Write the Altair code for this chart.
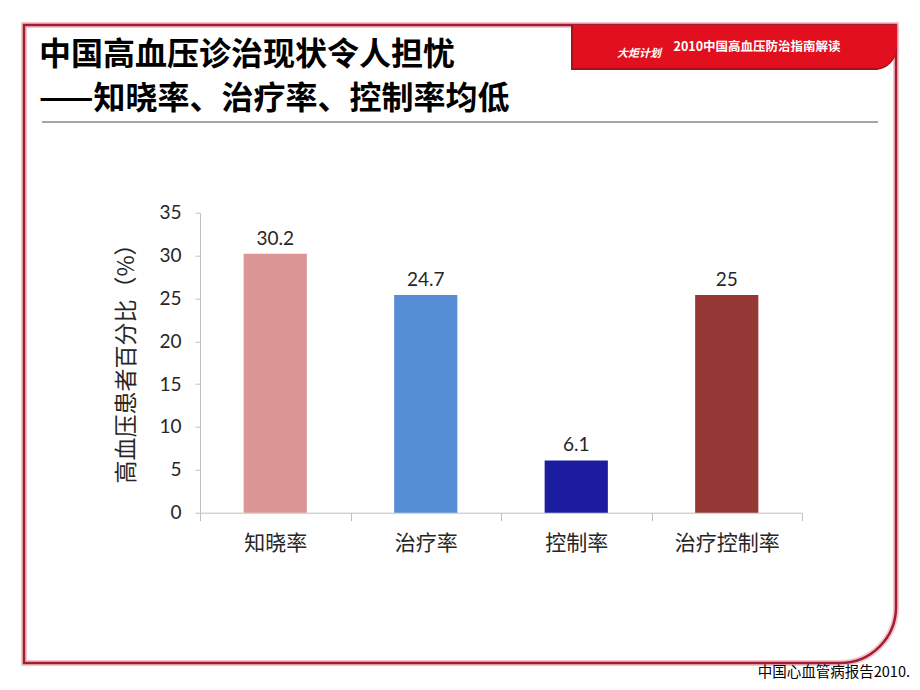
import altair as alt
import pandas as pd

# ---- data ----
categories = ["知晓率", "治疗率", "控制率", "治疗控制率"]
bar_values = [30.2, 25.4, 6.1, 25.4]
label_texts = ["30.2", "24.7", "6.1", "25"]
bar_colors = ["#D99694", "#558ED5", "#1C1CA0", "#953735"]
y_ticks = [0, 5, 10, 15, 20, 25, 30, 35]

title_line1 = "中国高血压诊治现状令人担忧"
title_line2 = "——知晓率、治疗率、控制率均低"
y_title = "高血压患者百分比（%）"
banner_text = "2010中国高血压防治指南解读"
logo_text = "大炬计划"
source_text = "中国心血管病报告2010."

df = pd.DataFrame({"cat": categories, "value": bar_values,
                   "label": label_texts, "color": bar_colors})
one = pd.DataFrame({"k": [0]})

W, H = 602, 300
OX, OY = 200, 212.7  # page-image coordinates of the plot origin


def px(X):
    return X - OX


def py(Y):
    return Y - OY


CJK = "Noto Sans CJK SC"

x_enc = alt.X(
    "cat:N", sort=categories,
    scale=alt.Scale(paddingInner=0, paddingOuter=0),
    axis=alt.Axis(title=None, tickBand="extent", labelAngle=0,
                  labelFontSize=21, labelFont=CJK, labelColor="#262626",
                  tickSize=8, tickColor="#BFBFBF", domainColor="#BFBFBF",
                  labelPadding=12),
)
y_enc = alt.Y(
    "value:Q",
    scale=alt.Scale(domain=[0, 35], nice=False),
    axis=alt.Axis(title=None, values=y_ticks, grid=False, tickSize=5,
                  tickColor="#BFBFBF", domainColor="#BFBFBF",
                  labelFont="Lato", labelFontSize=19, labelColor="#262626",
                  labelPadding=14),
)

bars = alt.Chart(df).mark_bar(width=alt.RelativeBandSize(0.42)).encode(
    x=x_enc, y=y_enc, color=alt.Color("color:N", scale=None)
)
labels = alt.Chart(df).mark_text(
    baseline="alphabetic", dy=-9, font="Lato", fontSize=19, color="#262626"
).encode(x=alt.X("cat:N", sort=categories), y="value:Q", text="label:N")

frame_glow = alt.Chart(one).mark_rect(
    filled=False, stroke="#F6C4CC", strokeWidth=6, cornerRadiusBottomRight=56
).encode(x=alt.value(px(24)), x2=alt.value(px(896)),
         y=alt.value(py(25)), y2=alt.value(py(663)))
frame = alt.Chart(one).mark_rect(
    filled=False, stroke="#9E1F32", strokeWidth=2.5, cornerRadiusBottomRight=56
).encode(x=alt.value(px(24)), x2=alt.value(px(896)),
         y=alt.value(py(25)), y2=alt.value(py(663)))

banner_shadow = alt.Chart(one).mark_rect(
    fill="#A8101C", cornerRadiusBottomRight=24
).encode(x=alt.value(px(571)), x2=alt.value(px(897)),
         y=alt.value(py(25)), y2=alt.value(py(70)))
banner = alt.Chart(one).mark_rect(
    fill="#E2101E", cornerRadiusBottomRight=22
).encode(x=alt.value(px(573)), x2=alt.value(px(897)),
         y=alt.value(py(25)), y2=alt.value(py(68)))
banner_label = alt.Chart(one).mark_text(
    text=banner_text, font=CJK, fontWeight="bold", fontSize=12.5,
    color="white", align="center", baseline="middle"
).encode(x=alt.value(px(757)), y=alt.value(py(47)))
logo = alt.Chart(one).mark_text(
    text=logo_text, font=CJK, fontWeight="bold", fontSize=11,
    fontStyle="italic", color="white", align="center", baseline="middle"
).encode(x=alt.value(px(639)), y=alt.value(py(54)))

rule = alt.Chart(one).mark_rule(color="#A6A6A6", strokeWidth=2).encode(
    x=alt.value(px(42)), x2=alt.value(px(878)), y=alt.value(py(122)))

t1 = alt.Chart(one).mark_text(
    text=title_line1, font=CJK, fontWeight="bold", fontSize=32,
    color="black", align="left", baseline="middle"
).encode(x=alt.value(px(39)), y=alt.value(py(55)))
t2 = alt.Chart(one).mark_text(
    text=title_line2, font=CJK, fontWeight="bold", fontSize=32,
    color="black", align="left", baseline="middle"
).encode(x=alt.value(px(39)), y=alt.value(py(99)))

ytitle = alt.Chart(one).mark_text(
    text=y_title, font=CJK, fontSize=23, color="#262626", angle=270,
    align="center", baseline="middle"
).encode(x=alt.value(px(127)), y=alt.value(py(358)))

source = alt.Chart(one).mark_text(
    text=source_text, font=CJK, fontSize=14.5, color="black",
    align="right", baseline="alphabetic"
).encode(x=alt.value(px(910)), y=alt.value(py(677)))

chart = alt.layer(
    frame_glow, frame, banner_shadow, banner, banner_label, logo,
    rule, t1, t2, ytitle, source, bars, labels
).properties(
    width=W, height=H,
    autosize=alt.AutoSizeParams(type="none"),
    padding={"left": OX - 8, "top": OY - 8,
             "right": 904 - (OX - 8) - W, "bottom": 674 - (OY - 8) - H},
    background="white",
).configure_view(stroke=None)

chart.save("out.html", embed_options={"renderer": "svg", "actions": False})
